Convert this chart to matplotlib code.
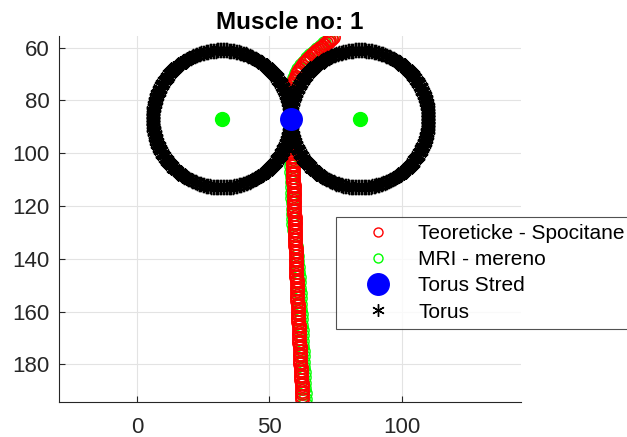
import numpy as np
import matplotlib.pyplot as plt
from matplotlib.lines import Line2D

plt.rcParams['font.family'] = ['Liberation Sans', 'DejaVu Sans']

# theoretical (computed) muscle path: curved upper part, then the long straight part
red_x = [74.0, 73.3, 72.6, 71.9, 71.2, 70.5, 69.8, 69.1, 68.4, 67.7, 67.0, 66.3, 65.6,
         64.9, 64.2, 63.6, 63.0, 62.4, 61.8, 61.3, 60.8, 60.3, 59.9, 59.5, 59.1, 58.8,
         58.5, 58.2, 58.0, 57.9, 57.8, 57.8, 57.8, 57.8, 57.8, 57.9, 57.9, 58.0, 58.0,
         58.1, 58.1, 58.2, 58.2, 58.3, 58.3, 58.4, 58.4, 58.5, 58.5, 58.5, 58.6,
         58.6, 58.6, 58.7, 58.7, 58.7, 58.8, 58.8, 58.8, 58.9, 58.9, 59.0,
         59.0, 59.0, 59.1, 59.1, 59.1, 59.2, 59.2, 59.2, 59.3, 59.3,
         59.3, 59.4, 59.4, 59.4, 59.5, 59.5, 59.5, 59.6, 59.6, 59.6,
         59.7, 59.7, 59.7, 59.8, 59.8, 59.8, 59.9, 59.9, 59.9, 60.0,
         60.0, 60.0, 60.1, 60.1, 60.1, 60.2, 60.2, 60.2, 60.3, 60.3,
         60.3, 60.4, 60.4, 60.4, 60.5, 60.5, 60.5, 60.6, 60.6, 60.7,
         60.7, 60.8, 60.8, 60.9, 60.9, 61.0, 61.0, 61.1, 61.1, 61.2,
         61.2, 61.3, 61.3, 61.4, 61.4, 61.5, 61.5, 61.6, 61.6, 61.7,
         61.7, 61.8, 61.8, 61.9, 61.9, 62.0, 62.0, 62.1, 62.1, 62.2,
         62.2, 62.3, 62.3, 62.4]
red_y = [56.0, 56.6, 57.2, 57.8, 58.4, 59.0, 59.6, 60.2, 60.8, 61.4, 62.0, 62.6, 63.2,
         63.9, 64.6, 65.3, 66.0, 66.8, 67.6, 68.4, 69.2, 70.1, 71.0, 71.9, 72.8, 73.7,
         74.6, 75.6, 76.6, 77.6, 78.6, 79.6, 80.6, 81.6, 82.6, 83.6, 84.6, 85.6, 86.6,
         87.6, 88.6, 89.6, 90.6, 91.6, 92.6, 93.6, 94.6, 95.6, 96.6, 97.6, 98.4,
         99, 100, 101, 102, 103, 104, 105, 106, 107, 108, 109,
         110, 111, 112, 113, 114, 115, 116, 117, 118, 119,
         120, 121, 122, 123, 124, 125, 126, 127, 128, 129,
         130, 131, 132, 133, 134, 135, 136, 137, 138, 139,
         140, 141, 142, 143, 144, 145, 146, 147, 148, 149,
         150, 151, 152, 153, 154, 155, 156, 157, 158, 159,
         160, 161, 162, 163, 164, 165, 166, 167, 168, 169,
         170, 171, 172, 173, 174, 175, 176, 177, 178, 179,
         180, 181, 182, 183, 184, 185, 186, 187, 188, 189,
         190, 191, 192, 193]

# measured (MRI) muscle path
mri_x = [73.2, 71.9, 70.6, 69.3, 68.0, 66.7, 65.4, 64.2, 63.0, 61.9, 60.9, 60.0, 59.2,
         58.6, 58.1, 57.8, 57.6, 57.6, 57.6, 57.7, 57.8, 57.9, 58.0, 58.1, 58.2,
         58.0, 58.1, 58.1, 58.2, 58.3, 58.4, 58.4, 58.5, 58.6, 58.6, 58.7, 58.8,
         58.8, 58.9, 59.0, 59.1,
         59.6, 59.8, 60.0, 60.1, 60.3, 60.5, 60.6, 60.8, 61.0, 61.1, 61.3, 61.4,
         61.5, 61.6, 61.7, 61.8, 61.9, 62.0, 62.1, 62.2, 62.3, 62.4, 62.5, 62.6,
         62.7, 62.8, 62.9, 63.0, 63.1, 63.2, 63.3, 63.4, 63.5]
mri_y = [56.5, 57.4, 58.4, 59.4, 60.5, 61.6, 62.8, 64.0, 65.3, 66.7, 68.2, 69.8, 71.5,
         73.3, 75.2, 77.2, 79.3, 81.5, 83.7, 86.0, 88.3, 90.6, 92.9, 95.2, 97.4,
         99, 101, 103, 105, 107, 109, 111, 113, 115, 117, 119, 121,
         123, 125, 127, 129,
         131, 133, 135, 137, 139, 141, 143, 145, 147, 149, 151, 153,
         155, 157, 159, 161, 163, 165, 167, 169, 171, 173, 175, 177,
         179, 181, 183, 185, 187, 189, 191, 193, 195]

torus_cx = [32, 84]
torus_cy = [87, 87]
torus_r = 26
stred_x, stred_y = 58, 87

asterisk = (6, 2, 0)

fig = plt.figure(figsize=(6.27, 4.37), dpi=100)
ax = fig.add_axes([59 / 627, 1 - 401.5 / 437, 462 / 627, 365.5 / 437])

ax.plot(mri_x, mri_y, 'o', ms=9.5, mfc='none', mec=(0, 1, 0), mew=1, zorder=2)
ax.plot(red_x, red_y, 'o', ms=9.5, mfc='none', mec='red', mew=1.2, zorder=2.1)

t = np.linspace(0, 2 * np.pi, 300)
for cx, cy in zip(torus_cx, torus_cy):
    ax.plot(cx + torus_r * np.cos(t), cy + torus_r * np.sin(t), ls='none',
            marker=asterisk, color='black', ms=11, mew=1, zorder=3)

ax.plot(torus_cx, torus_cy, 'o', ms=10, color=(0, 1, 0), zorder=4)
ax.plot(stred_x, stred_y, 'o', ms=15.5, color='blue', zorder=5)

ax.set_xlim(-29.4, 144.9)
ax.set_ylim(194.1, 55.6)
ax.set_xticks([0, 50, 100])
ax.set_yticks([60, 80, 100, 120, 140, 160, 180])
ax.tick_params(direction='in', length=4, labelsize=16, colors='#262626', width=0.8)
ax.tick_params(axis='x', pad=11)
ax.tick_params(axis='y', pad=7)
ax.grid(True, color='#e3e3e3', lw=0.8)
ax.set_axisbelow(True)
for s in ['top', 'right']:
    ax.spines[s].set_visible(False)
for s in ['left', 'bottom']:
    ax.spines[s].set_color('#262626')
    ax.spines[s].set_linewidth(0.8)
ax.set_title('Muscle no: 1', fontsize=17.5, fontweight='bold', pad=5)

handles = [
    Line2D([], [], ls='none', marker='o', ms=6.5, mfc='none', mec='red'),
    Line2D([], [], ls='none', marker='o', ms=6.5, mfc='none', mec=(0, 1, 0)),
    Line2D([], [], ls='none', marker='o', ms=15.5, color='blue'),
    Line2D([], [], ls='none', marker=asterisk, ms=9, mew=1, color='black'),
]
labels = ['Teoreticke - Spocitane', 'MRI - mereno', 'Torus Stred', 'Torus']
leg = fig.legend(handles, labels, loc='upper left', bbox_to_anchor=(336 / 627, 1 - 217 / 437),
                 fontsize=15, frameon=True, fancybox=False, edgecolor='#262626',
                 borderpad=0.35, labelspacing=0.34, handlelength=3.3, handletextpad=0.3,
                 borderaxespad=0)
leg.get_frame().set_linewidth(0.8)

plt.savefig('out.png', dpi=100)
